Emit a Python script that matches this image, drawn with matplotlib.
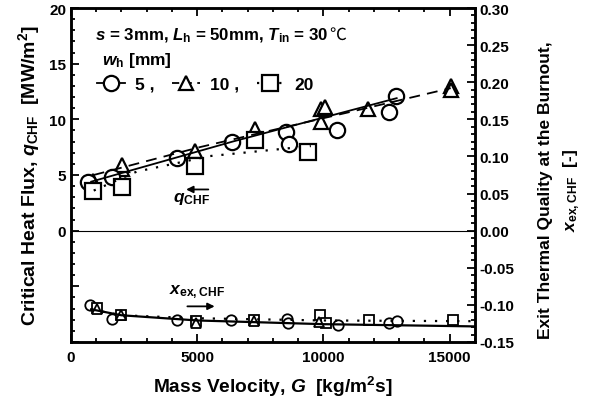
import matplotlib
matplotlib.use("Agg")
import matplotlib.pyplot as plt
from matplotlib.lines import Line2D
from matplotlib.ticker import MultipleLocator, FuncFormatter

plt.rcParams["font.family"] = ["Liberation Sans", "DejaVu Sans"]
plt.rcParams["font.weight"] = "bold"
plt.rcParams["mathtext.fontset"] = "custom"
plt.rcParams["mathtext.rm"] = "Liberation Sans:bold"
plt.rcParams["mathtext.it"] = "Liberation Sans:italic:bold"
plt.rcParams["mathtext.bf"] = "Liberation Sans:bold"

# critical heat flux q_CHF [MW/m2] vs mass velocity G [kg/m2s]
G5_q = [680, 1630, 4200, 6390, 8500, 8650, 10550, 12580, 12860]
q5 = [4.4, 4.8, 6.5, 8.0, 8.9, 7.8, 9.0, 10.7, 12.1]
G10_q = [870, 2020, 2020, 4900, 7300, 9900, 10080, 9900, 11750, 15040, 15040]
q10 = [4.5, 5.5, 5.9, 7.2, 9.1, 10.9, 11.1, 9.8, 10.9, 13.0, 12.6]
G20_q = [870, 2020, 4920, 7300, 9400]
q20 = [3.6, 3.9, 5.8, 8.1, 7.1]

# exit thermal quality x_ex,CHF [-]
G5_x = [750, 1620, 4200, 6350, 8570, 8610, 10590, 12580, 12900]
x5 = [-0.100, -0.119, -0.121, -0.121, -0.119, -0.125, -0.127, -0.125, -0.122]
G10_x = [1030, 1980, 4960, 7260, 9840]
x10 = [-0.106, -0.114, -0.124, -0.122, -0.123]
G20_x = [1030, 1980, 4960, 7260, 9880, 10120, 11790, 15120]
x20 = [-0.104, -0.113, -0.122, -0.120, -0.114, -0.125, -0.121, -0.121]

# fitted trend lines
fit5_G = [800, 6400, 12900]
fit5_q = [4.4, 8.0, 11.9]
fit10_G = [900, 5100, 11500, 15040]
fit10_q = [5.0, 7.5, 10.9, 12.8]
fit20_G = [900, 2600, 5500, 9500]
fit20_q = [3.6, 5.3, 6.7, 7.6]
fitx_G = [800, 2000, 5000, 10000, 16000]
fitx_solid = [-0.106, -0.114, -0.121, -0.126, -0.129]
fitx_dot = [-0.106, -0.114, -0.118, -0.121, -0.122]

fig = plt.figure(figsize=(5.9, 4.02), dpi=100)
ax = fig.add_axes([0.1203, 0.1468, 0.6847, 0.8308])
ax2 = ax.twinx()

big = dict(mfc="white", mec="black", mew=1.6, ls="none", color="black")
ax.plot(G10_q, q10, marker="^", ms=10, zorder=3, **big)
ax.plot(G5_q, q5, marker="o", ms=11, zorder=4, **big)
ax.plot(G20_q, q20, marker="s", ms=11, zorder=5, **big)
ax.plot(fit5_G, fit5_q, "-", color="black", lw=1.3, zorder=6)
ax.plot(fit10_G, fit10_q, color="black", lw=1.3, ls=(0, (6, 4)), zorder=6)
ax.plot(fit20_G, fit20_q, color="black", lw=1.6, ls=(0, (1, 4)), zorder=6)
ax.axhline(0, color="black", lw=0.8)

small = dict(mfc="white", mec="black", mew=1.3, ls="none", color="black")
ax2.plot(G5_x, x5, marker="o", ms=7.5, zorder=3, **small)
ax2.plot(G20_x, x20, marker="s", ms=7.5, zorder=4, **small)
ax2.plot(G10_x, x10, marker="^", ms=6.5, zorder=5, **small)
ax2.plot(fitx_G, fitx_solid, "-", color="black", lw=1.6, zorder=6)
ax2.plot(fitx_G, fitx_dot, color="black", lw=1.6, ls=(0, (1, 4)), zorder=6)

ax.set_xlim(0, 16000)
ax.set_ylim(-10, 20)
ax2.set_ylim(-0.15, 0.30)

ax.xaxis.set_major_locator(MultipleLocator(5000))
ax.xaxis.set_minor_locator(MultipleLocator(1000))
ax.yaxis.set_major_locator(MultipleLocator(5))
ax.yaxis.set_minor_locator(MultipleLocator(1))
ax.yaxis.set_major_formatter(FuncFormatter(lambda v, p: f"{v:.0f}" if v >= 0 else ""))
ax2.yaxis.set_major_locator(MultipleLocator(0.05))
ax2.yaxis.set_minor_locator(MultipleLocator(0.01))
ax2.yaxis.set_major_formatter(FuncFormatter(lambda v, p: f"{v:.2f}"))

ax.tick_params(which="both", direction="in", top=True, right=False, labelsize=11, width=1.3)
ax.tick_params(which="major", length=6)
ax.tick_params(which="minor", length=3)
ax.tick_params(axis="x", pad=6)
ax2.tick_params(which="both", direction="in", labelsize=11, width=1.3)
ax2.tick_params(which="major", length=6)
ax2.tick_params(which="minor", length=3)
for a in (ax, ax2):
    for s in a.spines.values():
        s.set_linewidth(1.8)
    for lab in a.get_xticklabels() + a.get_yticklabels():
        lab.set_fontweight("bold")

ax.set_xlabel(r"Mass Velocity, $G$  [kg/m$^{\rm 2}$s]", fontsize=13.8,
              fontweight="bold", labelpad=7)
ax.set_ylabel(r"Critical Heat Flux, $q_{\rm CHF}$  [MW/m$^{\rm 2}$]", fontsize=14,
              fontweight="bold", labelpad=5)
fig.text(0.924, 0.527, "Exit Thermal Quality at the Burnout,", rotation=90,
         ha="center", va="center", fontsize=12.5, fontweight="bold")
fig.text(0.969, 0.527, r"$x_{\rm ex,CHF}$  [-]", rotation=90,
         ha="center", va="center", fontsize=12.5, fontweight="bold")

t = ax.text(0.059, 0.919, r"$s$ = 3mm, $L_{\rm h}$ = 50mm, $T_{\rm in}$ = 30",
            transform=ax.transAxes, fontsize=12.2, fontweight="bold", va="center")
ax.annotate("℃", xy=(1, 0.5), xycoords=t, xytext=(1, 1), textcoords="offset points",
            va="center", ha="left", fontsize=12.2, family=["Noto Sans CJK JP"],
            fontweight="normal")
ax.text(0.077, 0.847, r"$w_{\rm h}$ [mm]", transform=ax.transAxes,
        fontsize=12.5, fontweight="bold", va="center")

handles = [
    Line2D([], [], color="black", lw=1.3, ls="-", marker="o", ms=11, mfc="white", mew=1.6),
    Line2D([], [], color="black", lw=1.3, ls=(0, (4, 3)), marker="^", ms=10, mfc="white", mew=1.6),
    Line2D([], [], color="black", lw=1.6, ls=(0, (1, 4)), marker="s", ms=11, mfc="white", mew=1.6),
]
ax.legend(handles, ["5 ,", "10 ,", "20"], loc="center left", bbox_to_anchor=(0.064, 0.772),
          ncol=3, frameon=False, handlelength=1.6, handletextpad=0.6, columnspacing=1.0,
          borderpad=0, borderaxespad=0, prop={"weight": "bold", "size": 12.5})

ax.text(4050, 2.9, r"$q_{\rm CHF}$", fontsize=12.5, fontweight="bold", va="center")
ax.annotate("", xy=(4450, 3.7), xytext=(5550, 3.7),
            arrowprops=dict(arrowstyle="-|>", color="black", lw=1.3))
ax.text(3900, -5.4, r"$x_{\rm ex,CHF}$", fontsize=12.5, fontweight="bold", va="center")
ax.annotate("", xy=(5800, -6.8), xytext=(4500, -6.8),
            arrowprops=dict(arrowstyle="-|>", color="black", lw=1.3))

fig.savefig("out.png", dpi=100)
